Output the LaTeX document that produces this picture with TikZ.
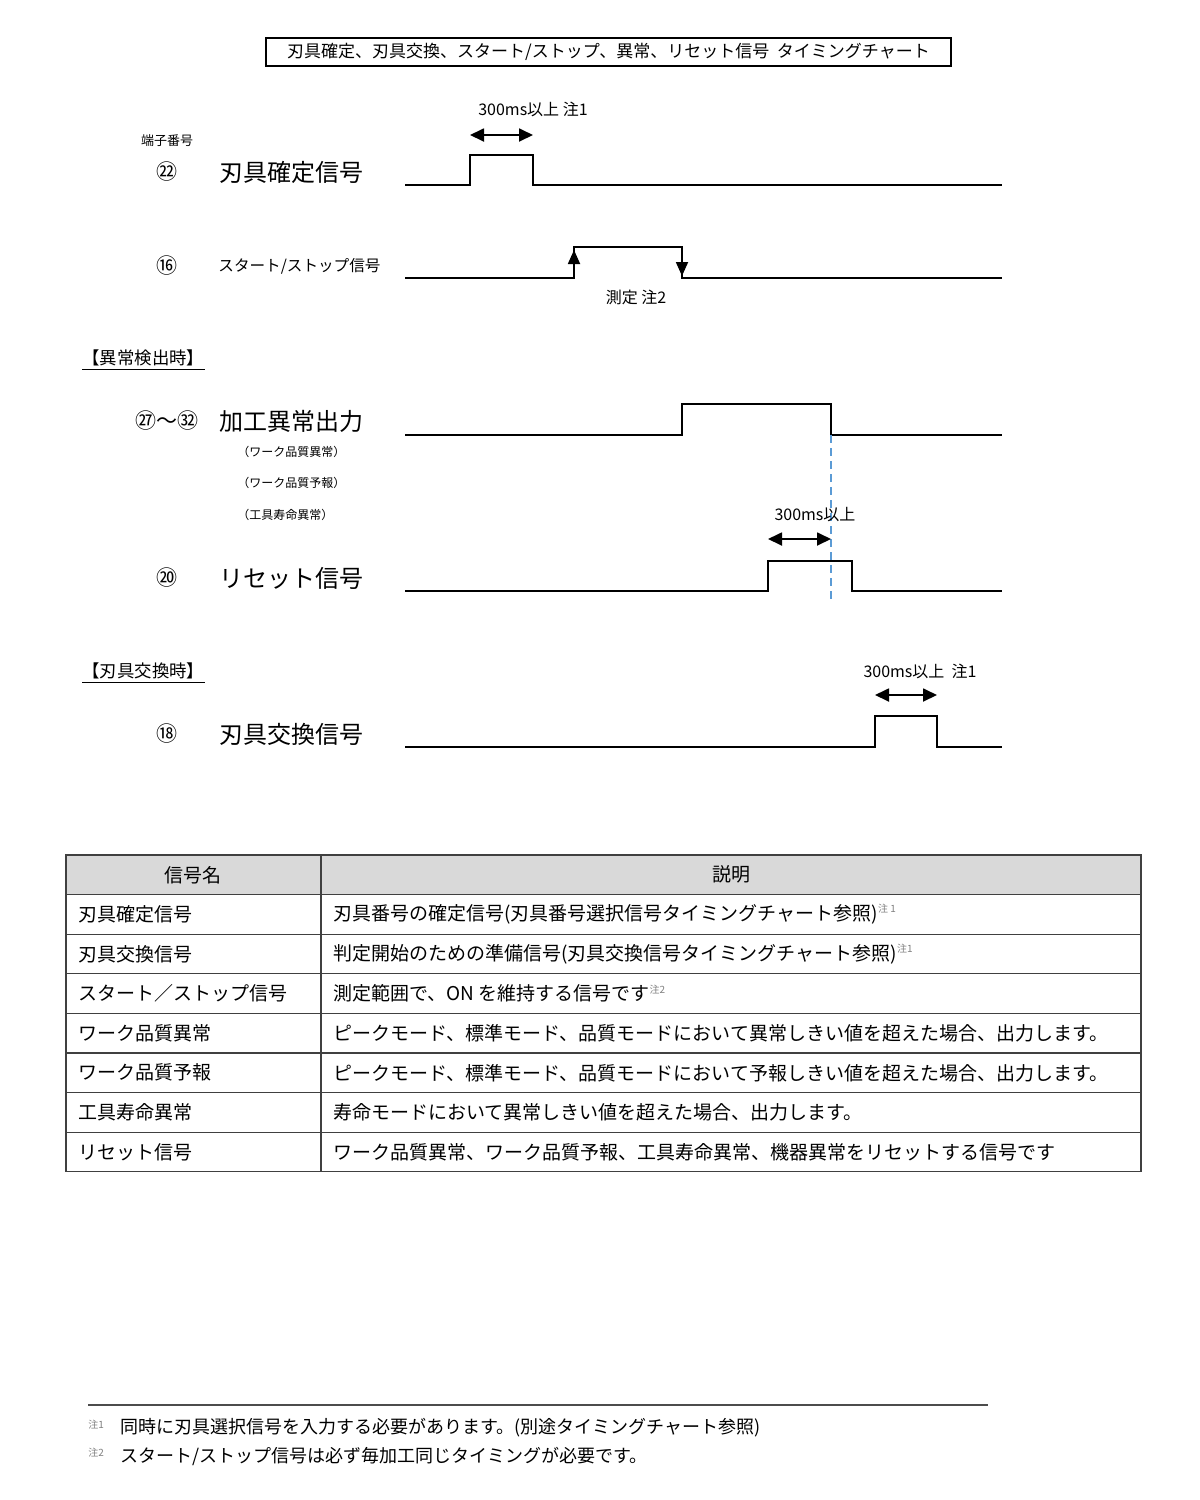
\documentclass[tikz,border=0pt]{standalone}
\usepackage{fontspec}
\setmainfont{Noto Sans CJK JP}
\usepackage{xcolor}
\usepackage{tikz}
\usetikzlibrary{arrows.meta, positioning, calc}

\definecolor{guideblue}{HTML}{5B9BD5}
\newcommand{\fs}[1]{\fontsize{#1}{#1}\selectfont}
\newcommand{\chu}[1]{\raisebox{0.75ex}{\fs{5}\color{gray}#1}}

\begin{document}
\begin{tikzpicture}[
    x=0.5pt, y=-0.5pt,
    sig/.style={font=\fs{12}, anchor=west, inner sep=0pt},
    sigsm/.style={font=\fs{7.8}, anchor=west, inner sep=0pt},
    pinno/.style={font=\fs{10.5}, inner sep=0pt},
    note/.style={font=\fs{6}, anchor=west, inner sep=0pt},
    dimlbl/.style={font=\fs{8}, inner sep=0pt},
    sect/.style={font=\fs{8.7}, anchor=west, inner sep=0pt},
    wave/.style={line width=0.9pt},
    dimarr/.style={{Triangle[length=7pt,width=6.5pt]}-{Triangle[length=7pt,width=6.5pt]}, line width=0.9pt},
    flank/.style={-{Triangle[length=7pt,width=6pt]}, line width=0.9pt},
    tbl/.style={line width=0.6pt, draw=black!75},
    cell/.style={font=\fs{9.5}, anchor=west, inner sep=0pt},
    hdr/.style={font=\fs{9.5}, inner sep=0pt},
    fn/.style={font=\fs{9}, anchor=west, inner sep=0pt},
  ]
  \useasboundingbox (0,0) rectangle (1200,1500);

  %% ── Title ─────────────────────────────────────────────────────────────
  \node[draw, line width=0.6pt, minimum width=342.5pt, minimum height=14pt,
        inner sep=0pt, font=\fs{8.5}] (title) at (608.5,52)
        {刃具確定、刃具交換、スタート/ストップ、異常、リセット信号\ \ タイミングチャート};

  %% ── Tool confirm (22) ─────────────────────────────────────────────────
  \node[font=\fs{6.5}, inner sep=0pt] (tno) at (167,141) {端子番号};
  \node[pinno] (p22) at (167,172) {㉒};
  \node[sig]   (s22) at (219,172) {刃具確定信号};
  \draw[wave] (405,185) -| (470,155) -| (533,185) -- (1002,185);
  \coordinate (k1a) at (470,135);
  \coordinate (k1b) at (533,135);
  \draw[dimarr] (k1a) -- (k1b);
  \node[dimlbl] (k1w) at (533,109) {300ms以上 注1};

  %% ── Start / stop (16) ─────────────────────────────────────────────────
  \node[pinno] (p16) at (167,266) {⑯};
  \node[sigsm] (s16) at (218,266) {スタート/ストップ信号};
  \draw[wave] (405,278) -| (574,247) -| (682,278) -- (1002,278);
  \coordinate (upA) at (574,278);
  \coordinate (upB) at (574,250);
  \coordinate (dnA) at (682,247);
  \coordinate (dnB) at (682,276);
  \draw[flank] (upA) -- (upB);
  \draw[flank] (dnA) -- (dnB);
  \node[dimlbl] (meas) at (636,297) {測定 注2};

  %% ── Abnormal detection ────────────────────────────────────────────────
  \node[sect] (abn) at (82,358) {【異常検出時】};
  \draw[line width=0.7pt] ([yshift=-1.5pt]abn.south west) -- ([yshift=-1.5pt]abn.south east);

  \node[pinno] (p27) at (167,421) {㉗～㉜};
  \node[sig]   (s27) at (219,421) {加工異常出力};
  \node[note]  (n1)  at (237,452) {（ワーク品質異常）};
  \node[note]  (n2)  at (237,483) {（ワーク品質予報）};
  \node[note]  (n3)  at (237,515) {（工具寿命異常）};
  \draw[wave] (405,435) -| (682,404) -| (831,435) -- (1002,435);

  \node[pinno] (p20) at (167,578) {⑳};
  \node[sig]   (s20) at (219,578) {リセット信号};
  \draw[wave] (405,591) -| (768,561) -| (852,591) -- (1002,591);

  \coordinate (guideT) at (831,435);
  \coordinate (guideB) at (831,602);
  \draw[guideblue, line width=0.6pt, dash pattern=on 4pt off 2.5pt] (guideT) -- (guideB);
  \coordinate (r1a) at (768,539);
  \coordinate (r1b) at (831,539);
  \draw[dimarr] (r1a) -- (r1b);
  \node[dimlbl] (r1w) at (815,515) {300ms以上};

  %% ── Tool change (18) ──────────────────────────────────────────────────
  \node[sect] (chg) at (82,671) {【刃具交換時】};
  \draw[line width=0.7pt] ([yshift=-1.5pt]chg.south west) -- ([yshift=-1.5pt]chg.south east);

  \node[pinno] (p18) at (167,734) {⑱};
  \node[sig]   (s18) at (219,734) {刃具交換信号};
  \draw[wave] (405,747) -| (875,716) -| (937,747) -- (1002,747);
  \coordinate (c1a) at (875,695);
  \coordinate (c1b) at (937,695);
  \draw[dimarr] (c1a) -- (c1b);
  \node[dimlbl] (c1w) at (920,671) {300ms以上\ \ 注1};

  %% ── Signal table ──────────────────────────────────────────────────────
  \fill[gray!30] (66,855) rectangle (1141,894.6);
  \draw[tbl] (66,855) rectangle (1141,1171.8);
  \draw[tbl] (321,855) -- (321,1171.8);
  \foreach \y in {894.6,934.2,973.8,1013.4,1053,1092.6,1132.2}
    \draw[tbl] (66,\y) -- (1141,\y);

  \node[hdr] (hname) at (193,874.8) {信号名};
  \node[hdr] (hdesc) at (731,874.8) {説明};

  \node[cell] (t1) at (78,914.4)  {刃具確定信号};
  \node[cell] (t2) at (78,954)    {刃具交換信号};
  \node[cell] (t3) at (78,993.6)  {スタート／ストップ信号};
  \node[cell] (t4) at (78,1033.2) {ワーク品質異常};
  \node[cell] (t5) at (78,1072.8) {ワーク品質予報};
  \node[cell] (t6) at (78,1112.4) {工具寿命異常};
  \node[cell] (t7) at (78,1152)   {リセット信号};

  \node[cell] (d1) at (333,914.4)  {刃具番号の確定信号(刃具番号選択信号タイミングチャート参照)\chu{注 1}};
  \node[cell] (d2) at (333,954)    {判定開始のための準備信号(刃具交換信号タイミングチャート参照)\chu{注1}};
  \node[cell] (d3) at (333,993.6)  {測定範囲で、ON を維持する信号です\chu{注2}};
  \node[cell] (d4) at (333,1033.2) {ピークモード、標準モード、品質モードにおいて異常しきい値を超えた場合、出力します。};
  \node[cell] (d5) at (333,1072.8) {ピークモード、標準モード、品質モードにおいて予報しきい値を超えた場合、出力します。};
  \node[cell] (d6) at (333,1112.4) {寿命モードにおいて異常しきい値を超えた場合、出力します。};
  \node[cell] (d7) at (333,1152)   {ワーク品質異常、ワーク品質予報、工具寿命異常、機器異常をリセットする信号です};

  %% ── Footnotes ─────────────────────────────────────────────────────────
  \coordinate (fnL) at (88,1405);
  \coordinate (fnR) at (988,1405);
  \draw[line width=0.7pt, black!70] (fnL) -- (fnR);
  \node[fn] (f1m) at (88,1428)  {\chu{注1}};
  \node[fn] (f1)  at (120,1428) {同時に刃具選択信号を入力する必要があります。(別途タイミングチャート参照)};
  \node[fn] (f2m) at (88,1456)  {\chu{注2}};
  \node[fn] (f2)  at (120,1456) {スタート/ストップ信号は必ず毎加工同じタイミングが必要です。};

\end{tikzpicture}
\end{document}
